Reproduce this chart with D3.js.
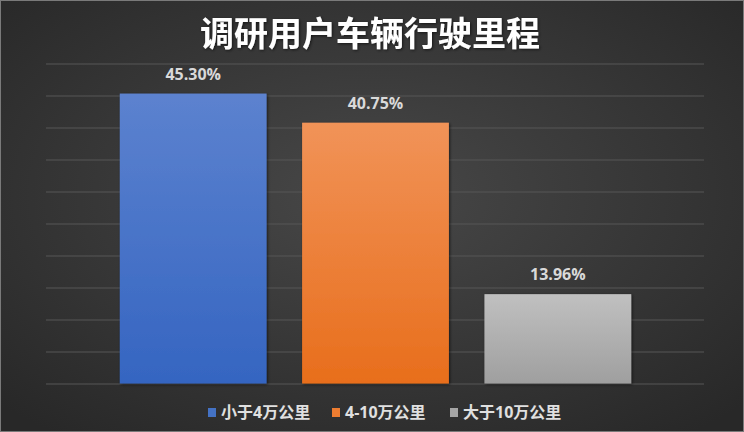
<!DOCTYPE html>
<html>
<head>
<meta charset="utf-8">
<script src="https://cdn.jsdelivr.net/npm/d3@7"></script>
<style>
  html, body { margin: 0; padding: 0; background: #2b2b2b; }
  svg { display: block; }
  text { font-family: "Open Sans", "Noto Sans CJK SC", sans-serif; font-weight: bold; }
</style>
</head>
<body>
<script>
var categories = ["小于4万公里", "4-10万公里", "大于10万公里"];
var values = [45.30, 40.75, 13.96];
var labels = ["45.30%", "40.75%", "13.96%"];
var gridTicks = [0, 5, 10, 15, 20, 25, 30, 35, 40, 45, 50];
var barColors = [["#5c82cf", "#3565c1"], ["#f19358", "#e86e1c"], ["#c0c0c0", "#9f9f9f"]];
var legendColors = ["#4472c4", "#ed7d31", "#a5a5a5"];

var width = 744,
    height = 432;

var svg = d3.select("body").append("svg")
    .attr("width", width)
    .attr("height", height);

var defs = svg.append("defs");

var bg = defs.append("radialGradient")
    .attr("id", "bg")
    .attr("cx", "50%").attr("cy", "45%").attr("r", "70%");
bg.append("stop").attr("offset", "0%").attr("stop-color", "#484848");
bg.append("stop").attr("offset", "100%").attr("stop-color", "#282828");

barColors.forEach(function (c, i) {
    var g = defs.append("linearGradient")
        .attr("id", "bar" + i)
        .attr("x1", 0).attr("y1", 0).attr("x2", 0).attr("y2", 1);
    g.append("stop").attr("offset", "0%").attr("stop-color", c[0]);
    g.append("stop").attr("offset", "100%").attr("stop-color", c[1]);
});

var shadow = defs.append("filter").attr("id", "shadow")
    .attr("x", "-10%").attr("y", "-10%").attr("width", "130%").attr("height", "130%");
shadow.append("feDropShadow")
    .attr("dx", 1).attr("dy", 1).attr("stdDeviation", 1.5)
    .attr("flood-color", "#000").attr("flood-opacity", 0.6);

svg.append("rect")
    .attr("x", 0.5).attr("y", 0.5)
    .attr("width", width - 1).attr("height", height - 1)
    .attr("fill", "url(#bg)")
    .attr("stroke", "#7a7a7a")
    .attr("stroke-width", 1);

// title
svg.append("text")
    .attr("x", 370)
    .attr("y", 46)
    .attr("text-anchor", "middle")
    .attr("fill", "#ffffff")
    .attr("font-size", "34px")
    .attr("filter", "url(#shadow)")
    .text("调研用户车辆行驶里程");

var x = d3.scaleBand()
    .domain(categories)
    .range([102, 649])
    .paddingInner(0.195)
    .paddingOuter(0.0975);

var y = d3.scaleLinear()
    .domain([0, 50])
    .range([383.5, 63.5]);

// gridlines
var grid = svg.append("g")
    .attr("transform", "translate(46,0)")
    .call(d3.axisLeft(y).tickValues(gridTicks).tickSize(-(704 - 46)).tickFormat(""));
grid.select(".domain").remove();
grid.selectAll(".tick line")
    .attr("stroke", "#575757")
    .attr("stroke-width", 1);

// bars
svg.selectAll(".bar")
    .data(values)
    .enter()
    .append("rect")
    .attr("class", "bar")
    .attr("x", function (d, i) { return x(categories[i]); })
    .attr("width", x.bandwidth())
    .attr("y", function (d) { return y(d); })
    .attr("height", function (d) { return y(0) - y(d); })
    .attr("fill", function (d, i) { return "url(#bar" + i + ")"; })
    .attr("filter", "url(#shadow)");

// data labels
svg.selectAll(".label")
    .data(values)
    .enter()
    .append("text")
    .attr("class", "label")
    .attr("x", function (d, i) { return x(categories[i]) + x.bandwidth() / 2; })
    .attr("y", function (d) { return y(d) - 14; })
    .attr("text-anchor", "middle")
    .attr("fill", "#d9d9d9")
    .attr("font-size", "16px")
    .text(function (d, i) { return labels[i]; });

// legend
var legendX = [208, 332, 450];
var legend = svg.selectAll(".legend")
    .data(categories)
    .enter()
    .append("g")
    .attr("class", "legend")
    .attr("transform", function (d, i) { return "translate(" + legendX[i] + ",408)"; });

legend.append("rect")
    .attr("width", 8)
    .attr("height", 9)
    .attr("fill", function (d, i) { return legendColors[i]; });

legend.append("text")
    .attr("x", 13)
    .attr("y", 10)
    .attr("fill", "#e0e0e0")
    .attr("font-size", "16px")
    .text(function (d) { return d; });
</script>
</body>
</html>
